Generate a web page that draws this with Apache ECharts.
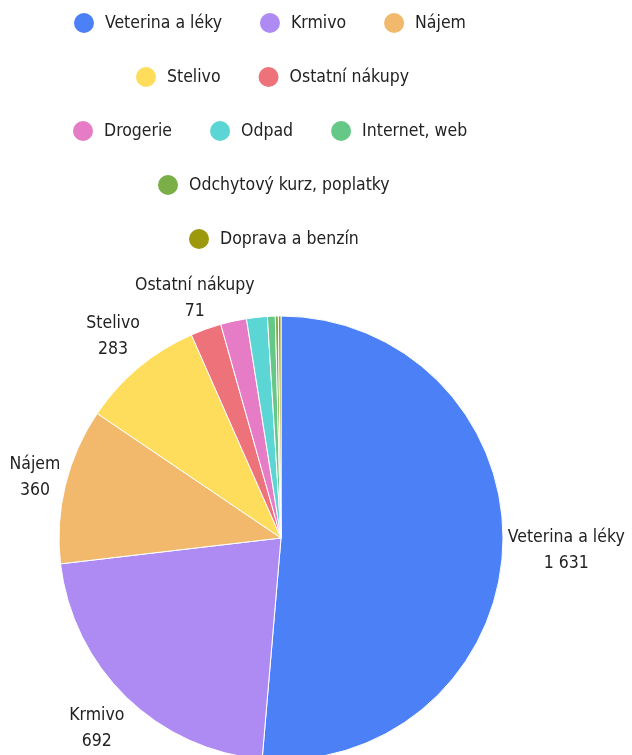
<!DOCTYPE html>
<html>
<head>
<meta charset="utf-8">
<script src="https://cdn.jsdelivr.net/npm/echarts@6/dist/echarts.min.js"></script>
<style>
  html, body { margin: 0; padding: 0; background: #ffffff; }
  #chart { width: 632px; height: 755px; }
</style>
</head>
<body>
<div id="chart"></div>
<script>
const categories = ['Veterina a léky', 'Krmivo', 'Nájem', 'Stelivo', 'Ostatní nákupy', 'Drogerie', 'Odpad', 'Internet, web', 'Odchytový kurz, poplatky', 'Doprava a benzín'];
const values = [1631, 692, 360, 283, 71, 60, 48, 18, 7, 6];
const colors = ['#4B80F6', '#AE8BF2', '#F2B86C', '#FFDD5C', '#EE727A', '#E67BC6', '#5CD5D5', '#65C886', '#7AAF48', '#9C9A0C'];
const legendRows = [[0, 1, 2], [3, 4], [5, 6, 7], [8], [9]];

const FONT = '"DejaVu Sans Condensed", "Liberation Sans Narrow", sans-serif';
const FS = 17.5;
const CX = 281, CY = 538, R = 222;
const LEGEND_CENTER = 275;
const IW = 32, IH = 22, IGAP = 36;
const total = values.reduce((a, b) => a + b, 0);

function fmt(v) {
  return String(v).replace(/\B(?=(\d{3})+(?!\d))/g, ' ');
}

const ctx = document.createElement('canvas').getContext('2d');
ctx.font = FS + 'px ' + FONT;
function textW(s) { return ctx.measureText(s).width; }

const chart = echarts.init(document.getElementById('chart'), null, { renderer: 'canvas' });

const legends = legendRows.map((row, r) => {
  const names = row.map(i => categories[i]);
  const W = names.reduce((s, n) => s + IW + 5 + textW(n), 0) + (names.length - 1) * IGAP;
  return {
    data: names,
    top: 11 + r * 54,
    left: Math.round(LEGEND_CENTER - W / 2),
    padding: 0,
    orient: 'horizontal',
    icon: 'circle',
    itemWidth: IW,
    itemHeight: IH,
    itemGap: IGAP,
    selectedMode: false,
    textStyle: { fontFamily: FONT, fontSize: FS, color: '#222' }
  };
});

const option = {
  animation: false,
  color: colors,
  legend: legends,
  series: [{
    type: 'pie',
    center: [CX, CY],
    radius: R,
    startAngle: 90,
    clockwise: true,
    avoidLabelOverlap: false,
    minShowLabelAngle: 7.5,
    itemStyle: { borderColor: '#ffffff', borderWidth: 1 },
    label: {
      show: true,
      position: 'outside',
      fontFamily: FONT,
      fontSize: FS,
      lineHeight: 26,
      color: '#222',
      formatter: p => p.name + '\n' + fmt(p.value)
    },
    labelLine: { show: false },
    emphasis: { disabled: true },
    labelLayout: function (p) {
      const i = p.dataIndex;
      let before = 0;
      for (let k = 0; k < i; k++) before += values[k];
      const theta = 2 * Math.PI * (before + values[i] / 2) / total;
      const vx = Math.sin(theta), vy = -Math.cos(theta);
      const pad = 4, off = 1;
      const hw = p.labelRect.width / 2 + pad, hh = p.labelRect.height / 2 + pad;
      const d = Math.min(Math.abs(vx) > 1e-6 ? hw / Math.abs(vx) : Infinity,
                         Math.abs(vy) > 1e-6 ? hh / Math.abs(vy) : Infinity);
      const dist = R + d + off;
      return {
        x: CX + dist * vx,
        y: CY + dist * vy,
        align: 'center',
        verticalAlign: 'middle'
      };
    },
    data: categories.map((n, i) => ({ name: n, value: values[i] }))
  }]
};

chart.setOption(option);
</script>
</body>
</html>
